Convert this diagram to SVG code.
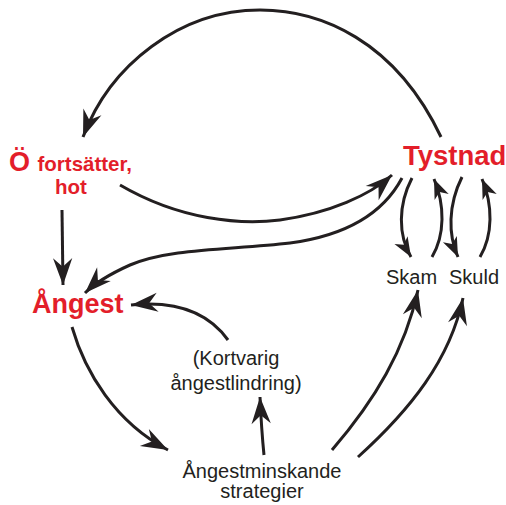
<svg xmlns="http://www.w3.org/2000/svg" width="506" height="505" viewBox="0 0 506 505">
<style>
.red{fill:#e31e2a;font-family:"Liberation Sans",Arial,sans-serif;font-weight:bold}
.blk{fill:#231f20;font-family:"Liberation Sans",Arial,sans-serif;font-size:20px}
.c{fill:none;stroke:#231f20;stroke-width:3;stroke-linecap:butt}
.big{marker-end:url(#ah)}
.sm{marker-end:url(#as)}
</style>
<defs>
<marker id="ah" markerUnits="userSpaceOnUse" markerWidth="30" markerHeight="30" refX="0" refY="0" viewBox="-26 -13 28 26" orient="auto" overflow="visible">
<path d="M0,0 L-25,-9 L-17,0 L-25,9 Z" fill="#231f20"/>
</marker>
<marker id="as" markerUnits="userSpaceOnUse" markerWidth="24" markerHeight="24" refX="0" refY="0" viewBox="-20 -10 22 20" orient="auto" overflow="visible">
<path d="M0,0 L-18,-7 L-13,0 L-18,7 Z" fill="#231f20"/>
</marker>
</defs>
<rect width="506" height="505" fill="#fff"/>
<g id="connectors">
<path class="c big" d="M441,137 C395,40 320,10 260,10 C180,10 110,65 83,137"/>
<path class="c big" d="M120,185 C180,220 240,225 280,220 C330,213 370,195 392,175"/>
<path class="c big" d="M402,178 C385,210 350,235 290,243 C230,250 170,248 130,265 C110,274 95,283 85,293"/>
<path class="c big" d="M62,210 L63,285"/>
<path class="c big" d="M72,327 C85,372 115,422 168,450"/>
<path class="c big" d="M264,455 C262,435 261,420 260,397"/>
<path class="c big" d="M228,340 C210,315 180,300 131,305"/>
<path class="c sm" d="M412,178 C398,205 398,235 411,257"/>
<path class="c sm" d="M432,257 C445,235 445,205 434,179"/>
<path class="c sm" d="M462,177 C448,205 448,235 458,257"/>
<path class="c sm" d="M480,257 C493,235 493,205 482,179"/>
<path class="c big" d="M332,450 C375,400 405,350 418,290"/>
<path class="c big" d="M358,457 C410,410 450,360 463,298"/>
</g>
<g id="node-o"><text class="red" x="9" y="171" font-size="27">Ö <tspan font-size="20.5">fortsätter,</tspan></text><text class="red" x="71" y="194" font-size="20.5" text-anchor="middle">hot</text></g>
<g id="node-tystnad"><text class="red" x="403" y="165" font-size="27.5">Tystnad</text></g>
<g id="node-angest"><text class="red" x="32" y="313" font-size="27">Ångest</text></g>
<g id="node-skam"><text class="blk" x="386" y="284">Skam</text></g>
<g id="node-skuld"><text class="blk" x="449" y="284">Skuld</text></g>
<g id="node-kortvarig"><text class="blk" x="236" y="365" text-anchor="middle">(Kortvarig</text><text class="blk" x="236" y="390" text-anchor="middle">ångestlindring)</text></g>
<g id="node-strategier"><text class="blk" x="262" y="478" text-anchor="middle">Ångestminskande</text><text class="blk" x="262" y="498" text-anchor="middle">strategier</text></g>
</svg>
